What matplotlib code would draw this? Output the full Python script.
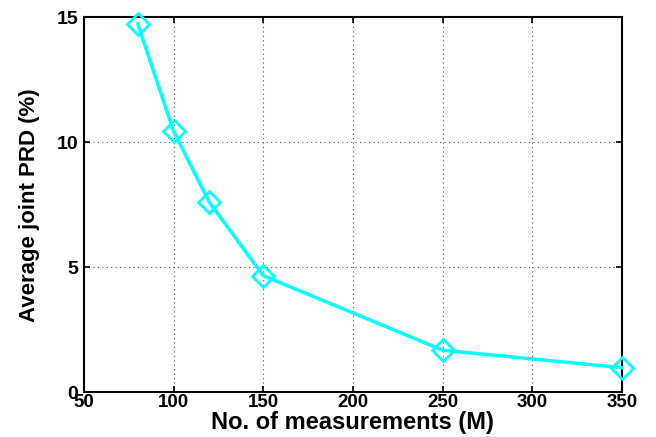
import matplotlib
matplotlib.use("Agg")
import matplotlib.pyplot as plt
from matplotlib import font_manager

M = [80, 100, 120, 150, 250, 350]
prd = [14.74, 10.44, 7.6, 4.67, 1.69, 0.99]
xticks = [50, 100, 150, 200, 250, 300, 350]
yticks = [0, 5, 10, 15]

names = {f.name for f in font_manager.fontManager.ttflist}
narrow = "Liberation Sans Narrow" if "Liberation Sans Narrow" in names else "Liberation Sans"

plt.rcParams['font.family'] = ['Liberation Sans', 'DejaVu Sans']

fig = plt.figure(figsize=(6.56, 4.37), dpi=100)
ax = fig.add_axes([0.128, 0.102, 0.82, 0.858])
ax.plot(M, prd, color='#00FFFF', lw=2.5, marker='D', markersize=11,
        markerfacecolor='none', markeredgecolor='#00FFFF', markeredgewidth=2, clip_on=False, zorder=5)
ax.set_xlim(50, 350)
ax.set_ylim(0, 15)
ax.set_xticks(xticks)
ax.set_yticks(yticks)
ax.grid(True, linestyle=(0, (1, 3)), color='#555555', linewidth=0.8)
ax.tick_params(direction='in', top=True, right=True, length=4, width=1.2, labelsize=14)
ax.tick_params(axis='x', pad=1, labelsize=13.5)
ax.tick_params(axis='y', pad=4)
for lab in ax.get_xticklabels() + ax.get_yticklabels():
    lab.set_fontweight('bold')
for s in ax.spines.values():
    s.set_linewidth(1.5)
ax.set_xlabel('No. of measurements (M)', fontsize=17, fontweight='bold', labelpad=0)
ax.set_ylabel('Average joint PRD (%)', fontsize=16, fontweight='bold', family=narrow, labelpad=12)
fig.savefig('out.png', dpi=100)
